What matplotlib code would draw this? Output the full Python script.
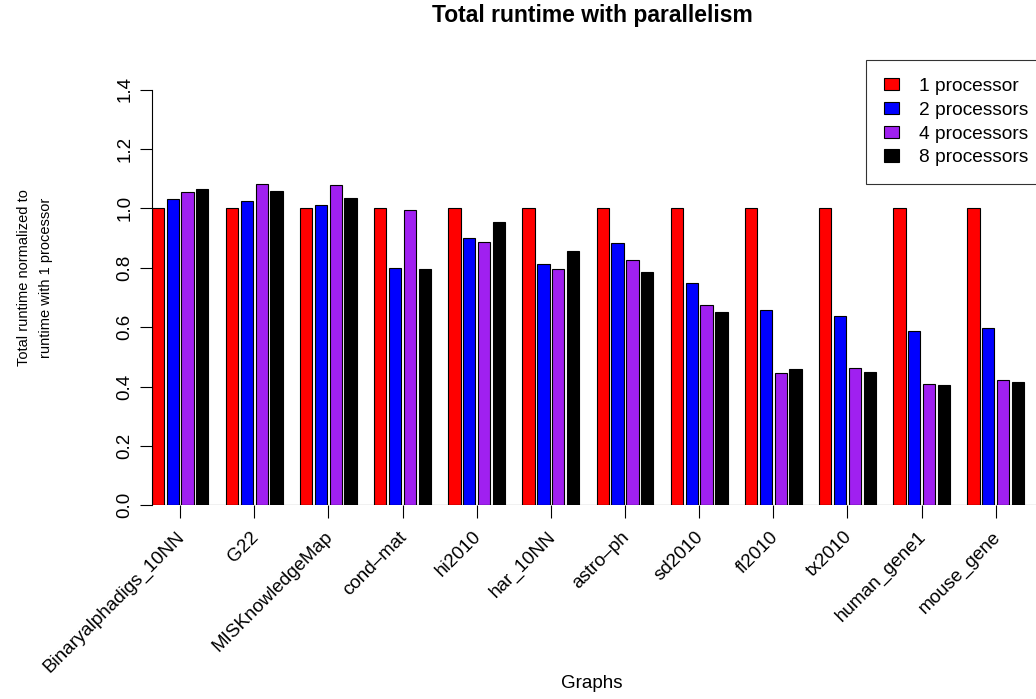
"""Total runtime with parallelism, grouped bars per graph."""
import numpy as np
import matplotlib
matplotlib.use("Agg")
import matplotlib.pyplot as plt
from matplotlib.transforms import ScaledTranslation

plt.rcParams['font.family'] = ['Liberation Sans', 'DejaVu Sans']

graphs = ['Binaryalphadigs_10NN', 'G22', 'MISKnowledgeMap', 'cond\u2013mat',
          'hi2010', 'har_10NN', 'astro\u2013ph', 'sd2010', 'fl2010', 'tx2010',
          'human_gene1', 'mouse_gene']
p1 = [1.0, 1.0, 1.0, 1.0, 1.0, 1.0, 1.0, 1.0, 1.0, 1.0, 1.0, 1.0]
p2 = [1.031, 1.024, 1.011, 0.798, 0.899, 0.811, 0.884, 0.750, 0.659, 0.637, 0.587, 0.598]
p4 = [1.056, 1.081, 1.077, 0.994, 0.888, 0.796, 0.825, 0.674, 0.444, 0.461, 0.407, 0.422]
p8 = [1.066, 1.059, 1.034, 0.795, 0.955, 0.857, 0.784, 0.652, 0.458, 0.450, 0.406, 0.414]
series = [p1, p2, p4, p8]
labels = ['1 processor', '2 processors', '4 processors', '8 processors']
colors = ['#FF0000', '#0000FF', '#A020F0', '#000000']

W, H = 1036, 699
fig = plt.figure(figsize=(W / 100, H / 100), dpi=100)

# pixel geometry of the plot region
px_unit = 14.83
x0_px = 151.7           # left edge of first bar (data x = 1)
ax_left, ax_right = 151.7, 1040.0
y0_px, ytop_px = 505.3, 60.0
ax = fig.add_axes([ax_left / W, (H - y0_px) / H,
                   (ax_right - ax_left) / W, (y0_px - ytop_px) / H])
xl = 1 - (x0_px - ax_left) / px_unit
ax.set_xlim(xl, xl + (ax_right - ax_left) / px_unit)
ax.set_ylim(0, (y0_px - ytop_px) / 297.0)

n = len(graphs)
bar_w = 0.83
starts = 1 + 5 * np.arange(n)
for k, (vals, c, lab) in enumerate(zip(series, colors, labels)):
    ax.bar(starts + k, vals, width=bar_w, align='edge', color=c,
           edgecolor='black', linewidth=0.8, label=lab)

ax.axhline(0, color='black', linewidth=0.8)

for s in ['top', 'right', 'bottom']:
    ax.spines[s].set_visible(False)
ax.spines['left'].set_bounds(0, 1.4)
ax.spines['left'].set_linewidth(0.8)

yt = np.arange(0, 1.41, 0.2)
ax.set_yticks(yt)
ax.set_yticklabels(['%.1f' % v for v in yt], rotation=90, va='center',
                   fontsize=13.5)
ax.tick_params(axis='y', direction='out', length=9, width=0.8, pad=4)

ax.set_xticks(starts + (3 + bar_w) / 2)
ax.set_xticklabels(graphs, rotation=45, ha='right', rotation_mode='anchor',
                   fontsize=13.5)
ax.tick_params(axis='x', direction='out', length=9, width=0.8, pad=4)
shift = ScaledTranslation(-0.04, -0.05, fig.dpi_scale_trans)
for t in ax.get_xticklabels():
    t.set_transform(t.get_transform() + shift)

fig.text(592 / W, 1 - 22 / H, 'Total runtime with parallelism',
         ha='center', va='baseline', fontsize=16.5, fontweight='bold')
fig.text(592 / W, 1 - 684 / H, 'Graphs', ha='center', va='center',
         fontsize=13.5)
fig.text(35 / W, 1 - 278 / H, 'Total runtime normalized to\nruntime with 1 processor',
         ha='center', va='center', rotation=90, fontsize=10.5, linespacing=1.65)

leg = ax.legend(loc='upper left', bbox_to_anchor=(866 / W, 1 - 60 / H),
                bbox_transform=fig.transFigure, fontsize=13.75, frameon=True,
                fancybox=False, handlelength=0.8, handleheight=0.6,
                handletextpad=1.0, labelspacing=0.35, borderpad=0.95,
                borderaxespad=0)
leg.get_frame().set_edgecolor('black')
leg.get_frame().set_linewidth(0.8)
leg.set_clip_on(False)

fig.savefig('out.png', dpi=100)
